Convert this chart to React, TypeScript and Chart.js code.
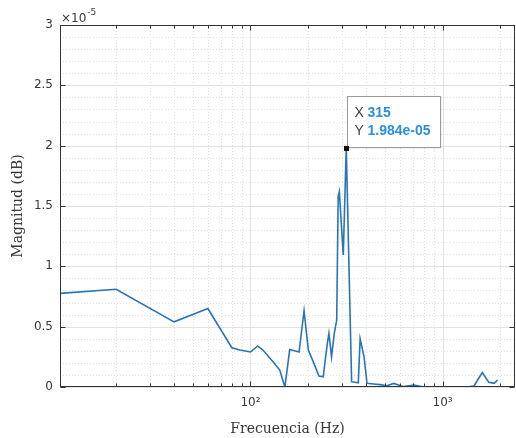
import React, { useEffect, useRef } from 'react';
import { Chart, registerables } from 'chart.js';

Chart.register(...registerables);

// Frequency (Hz) of each sample
const FREQ_HZ = [
  10.2, 20, 40, 60, 80, 88, 100, 109, 116, 131, 142, 151, 160, 179, 190, 200, 212, 227, 239, 251,
  256, 264, 273, 281, 286, 290, 297, 304, 315, 336, 364, 372, 390, 404, 437, 473, 513, 556, 626, 708,
  797, 976, 1144, 1347, 1455, 1608, 1738, 1855, 1930,
];
// Magnitude in units of 1e-5
const MAG_E5 = [
  0.776, 0.81, 0.54, 0.65, 0.325, 0.306, 0.29, 0.34, 0.306, 0.21, 0.14, 0.0, 0.31, 0.29, 0.632, 0.306, 0.21, 0.09, 0.085, 0.36,
  0.445, 0.25, 0.445, 0.555, 1.58, 1.618, 1.35, 1.094, 1.984, 0.044, 0.035, 0.4, 0.25, 0.03, 0.025, 0.02, 0.011, 0.03, 0.003, 0.017,
  0.0, 0.0, 0.0, 0.0, 0.008, 0.12, 0.04, 0.03, 0.058,
];
const Y_TICKS = [0, 0.5, 1, 1.5, 2, 2.5, 3];
const Y_TICK_LABELS = ['0', '0.5', '1', '1.5', '2', '2.5', '3'];
const X_TICKS = [100, 1000];
const X_TICK_LABELS = ['10²', '10³'];
const X_MIN = 10.2;
const X_MAX = 2380;
const Y_EXPONENT_BASE = '×10';
const Y_EXPONENT_POWER = '-5';
const X_TITLE = 'Frecuencia (Hz)';
const Y_TITLE = 'Magnitud (dB)';
const TIP_X_VALUE = '315';
const TIP_Y_VALUE = '1.984e-05';
const TIP_INDEX = 28;

const TEXT = '#383838';
const AXIS = '#333333';

const matlabPlugin = {
  id: 'matlabAxes',
  beforeDatasetsDraw(chart: any) {
    const { ctx, chartArea: a, scales } = chart;
    const x = scales.x;
    const y = scales.y;
    ctx.save();
    ctx.lineWidth = 1;
    // minor grid (dotted)
    ctx.strokeStyle = '#e0e0e0';
    ctx.setLineDash([1, 2]);
    for (let i = 1; i < 30; i++) {
      if (i % 5 === 0) continue;
      const py = Math.round(y.getPixelForValue(i / 10)) + 0.5;
      ctx.beginPath();
      ctx.moveTo(a.left, py);
      ctx.lineTo(a.right, py);
      ctx.stroke();
    }
    for (const dec of [10, 100, 1000]) {
      for (let k = 2; k <= 9; k++) {
        const v = dec * k;
        if (v <= X_MIN || v >= X_MAX) continue;
        const px = Math.round(x.getPixelForValue(v)) + 0.5;
        ctx.beginPath();
        ctx.moveTo(px, a.top);
        ctx.lineTo(px, a.bottom);
        ctx.stroke();
      }
    }
    // major grid
    ctx.setLineDash([]);
    ctx.strokeStyle = '#e2e2e2';
    for (const v of Y_TICKS) {
      const py = Math.round(y.getPixelForValue(v)) + 0.5;
      ctx.beginPath();
      ctx.moveTo(a.left, py);
      ctx.lineTo(a.right, py);
      ctx.stroke();
    }
    for (const v of X_TICKS) {
      const px = Math.round(x.getPixelForValue(v)) + 0.5;
      ctx.beginPath();
      ctx.moveTo(px, a.top);
      ctx.lineTo(px, a.bottom);
      ctx.stroke();
    }
    ctx.restore();
  },
  afterDraw(chart: any) {
    const { ctx, chartArea: a, scales } = chart;
    const x = scales.x;
    const y = scales.y;
    ctx.save();
    ctx.strokeStyle = AXIS;
    ctx.lineWidth = 1;
    const L = Math.round(a.left) + 0.5;
    const R = Math.round(a.right) - 0.5;
    const T = Math.round(a.top) + 0.5;
    const B = Math.round(a.bottom) - 0.5;
    ctx.strokeRect(L, T, R - L, B - T);
    // y ticks
    for (const v of Y_TICKS) {
      const py = Math.round(y.getPixelForValue(v)) + 0.5;
      ctx.beginPath();
      ctx.moveTo(L, py); ctx.lineTo(L + 5, py);
      ctx.moveTo(R, py); ctx.lineTo(R - 5, py);
      ctx.stroke();
    }
    // x ticks (major + minor)
    for (const dec of [10, 100, 1000]) {
      for (let k = 1; k <= 9; k++) {
        const v = dec * k;
        if (v <= X_MIN || v >= X_MAX) continue;
        const len = k === 1 ? 5 : 3;
        const px = Math.round(x.getPixelForValue(v)) + 0.5;
        ctx.beginPath();
        ctx.moveTo(px, B); ctx.lineTo(px, B - len);
        ctx.moveTo(px, T); ctx.lineTo(px, T + len);
        ctx.stroke();
      }
    }
    // exponent label
    ctx.fillStyle = TEXT;
    ctx.textBaseline = 'alphabetic';
    ctx.textAlign = 'left';
    ctx.font = '12px "DejaVu Sans"';
    ctx.fillText(Y_EXPONENT_BASE, a.left + 1, a.top - 3);
    const w = ctx.measureText(Y_EXPONENT_BASE).width;
    ctx.font = '9px "DejaVu Sans"';
    ctx.fillText(Y_EXPONENT_POWER, a.left + 1 + w + 1, a.top - 10);

    // datatip
    const px = x.getPixelForValue(FREQ_HZ[TIP_INDEX]);
    const py = y.getPixelForValue(MAG_E5[TIP_INDEX]);
    const bx = Math.round(px) + 1.5;
    const by = Math.round(py) - 51.5;
    ctx.shadowColor = 'rgba(0,0,0,0.15)';
    ctx.shadowBlur = 2;
    ctx.fillStyle = '#ffffff';
    ctx.fillRect(bx, by, 93, 51);
    ctx.shadowColor = 'transparent';
    ctx.strokeStyle = '#9a9a9a';
    ctx.strokeRect(bx, by, 93, 51);
    ctx.textBaseline = 'middle';
    ctx.font = '14px "Liberation Sans"';
    ctx.fillStyle = '#404040';
    ctx.fillText('X', bx + 7, py - 34);
    ctx.fillText('Y', bx + 7, py - 16);
    ctx.font = 'bold 14px "Liberation Sans"';
    ctx.fillStyle = '#2a8fdc';
    ctx.fillText(TIP_X_VALUE, bx + 20, py - 34);
    ctx.fillText(TIP_Y_VALUE, bx + 20, py - 16);
    ctx.fillStyle = '#111111';
    ctx.fillRect(Math.round(px) - 2, Math.round(py) - 2, 5, 5);
    ctx.restore();
  },
};

export default function App() {
  const canvasRef = useRef<HTMLCanvasElement | null>(null);

  useEffect(() => {
    const canvas = canvasRef.current;
    if (!canvas) return;
    const chart = new Chart(canvas, {
      type: 'line',
      data: {
        datasets: [
          {
            data: FREQ_HZ.map((f, i) => ({ x: f, y: MAG_E5[i] })),
            borderColor: '#2775b8',
            borderWidth: 1.6,
            pointRadius: 0,
            tension: 0,
            fill: false,
          },
        ],
      },
      options: {
        animation: false,
        responsive: false,
        devicePixelRatio: 1,
        layout: { padding: { top: 25, right: 1, left: 0, bottom: 0 } },
        plugins: { legend: { display: false }, tooltip: { enabled: false }, title: { display: false } },
        events: [],
        scales: {
          x: {
            type: 'logarithmic',
            min: X_MIN,
            max: X_MAX,
            grid: { display: false, drawTicks: false },
            border: { display: false },
            afterFit: (s: any) => { s.height = 51; },
            afterBuildTicks: (s: any) => { s.ticks = X_TICKS.map((v) => ({ value: v })); },
            ticks: {
              autoSkip: false,
              maxRotation: 0,
              padding: 9,
              color: TEXT,
              font: { family: 'DejaVu Sans', size: 12 },
              callback: (v: any) => {
                const i = X_TICKS.findIndex((t) => Math.abs(t - Number(v)) < 1e-6);
                return i >= 0 ? X_TICK_LABELS[i] : '';
              },
            },
            title: {
              display: true,
              text: X_TITLE,
              color: TEXT,
              font: { family: 'DejaVu Serif', size: 14 },
              padding: { top: 5, bottom: 0 },
            },
          },
          y: {
            type: 'linear',
            min: 0,
            max: 3,
            grid: { display: false, drawTicks: false },
            border: { display: false },
            afterFit: (s: any) => { s.width = 60; },
            afterBuildTicks: (s: any) => { s.ticks = Y_TICKS.map((v) => ({ value: v })); },
            ticks: {
              padding: 7,
              color: TEXT,
              font: { family: 'DejaVu Sans', size: 12 },
              callback: (v: any) => {
                const i = Y_TICKS.findIndex((t) => Math.abs(t - Number(v)) < 1e-9);
                return i >= 0 ? Y_TICK_LABELS[i] : '';
              },
            },
            title: {
              display: true,
              text: Y_TITLE,
              color: TEXT,
              font: { family: 'DejaVu Serif', size: 14 },
              padding: { top: 10, bottom: 0 },
            },
          },
        },
      },
      plugins: [matlabPlugin],
    });
    return () => chart.destroy();
  }, []);

  return (
    <div style={{ position: 'absolute', left: 0, top: 0, width: 516, height: 438, background: '#ffffff' }}>
      <canvas ref={canvasRef} width={516} height={438} />
    </div>
  );
}
